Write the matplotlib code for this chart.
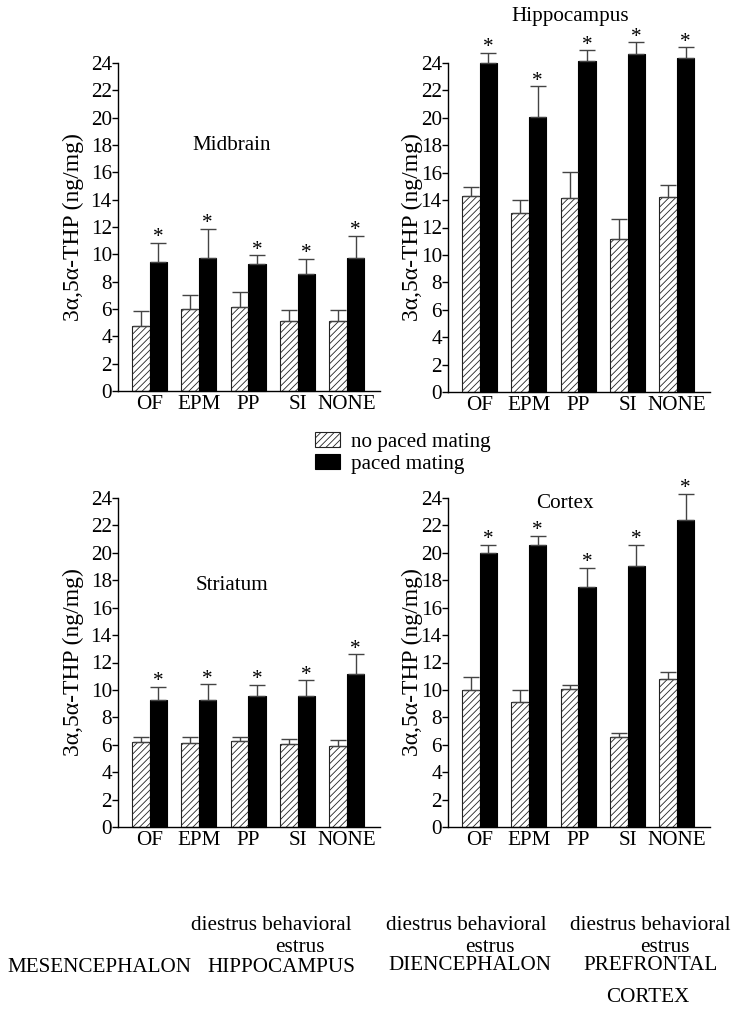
import matplotlib
matplotlib.use("Agg")
import matplotlib.pyplot as plt
import numpy as np

plt.rcParams['font.family'] = ['Liberation Serif', 'DejaVu Serif']
plt.rcParams['hatch.linewidth'] = 0.6
plt.rcParams['hatch.color'] = '#333333'

categories = ["OF", "EPM", "PP", "SI", "NONE"]
series_labels = ["no paced mating", "paced mating"]
yticks = list(range(0, 25, 2))

midbrain_no = [4.76, 6.00, 6.12, 5.10, 5.15]
midbrain_no_err = [1.12, 1.04, 1.12, 0.85, 0.80]
midbrain_paced = [9.47, 9.72, 9.30, 8.57, 9.74]
midbrain_paced_err = [1.36, 2.13, 0.63, 1.12, 1.60]

hippo_no = [14.30, 13.04, 14.13, 11.16, 14.25]
hippo_no_err = [0.66, 0.96, 1.95, 1.44, 0.85]
hippo_paced = [24.00, 20.05, 24.12, 24.66, 24.40]
hippo_paced_err = [0.73, 2.25, 0.81, 0.84, 0.75]

striatum_no = [6.21, 6.14, 6.26, 6.07, 5.92]
striatum_no_err = [0.32, 0.39, 0.27, 0.36, 0.46]
striatum_paced = [9.26, 9.28, 9.58, 9.58, 11.14]
striatum_paced_err = [0.97, 1.12, 0.78, 1.12, 1.46]

cortex_no = [9.99, 9.09, 10.06, 6.55, 10.82]
cortex_no_err = [0.93, 0.90, 0.32, 0.32, 0.51]
cortex_paced = [19.98, 20.57, 17.50, 19.03, 22.42]
cortex_paced_err = [0.59, 0.65, 1.38, 1.54, 1.90]

W, H = 736, 1011
FS = 15.2
fig = plt.figure(figsize=(W / 100, H / 100), dpi=100)


def rect(x0, x1, ytop, ybot):
    return [x0 / W, 1 - ybot / H, (x1 - x0) / W, (ybot - ytop) / H]


def fx(px):
    return px / W


def fy(py):
    return 1 - py / H


panels = [
    ("Midbrain", rect(118, 380, 63, 391), midbrain_no, midbrain_no_err, midbrain_paced, midbrain_paced_err, (232, 145), -45),
    ("Hippocampus", rect(448, 710, 63, 392), hippo_no, hippo_no_err, hippo_paced, hippo_paced_err, (570, 17), -36),
    ("Striatum", rect(118, 380, 498, 827), striatum_no, striatum_no_err, striatum_paced, striatum_paced_err, (232, 585), -45),
    ("Cortex", rect(448, 710, 498, 827), cortex_no, cortex_no_err, cortex_paced, cortex_paced_err, (565, 503), -36),
]

w = 0.355
handles = None
for title, r, no, no_err, pa, pa_err, tpos, ylab_off in panels:
    ax = fig.add_axes(r)
    x = np.arange(len(categories))
    b1 = ax.bar(x - w / 2, no, w, facecolor='white', edgecolor='#222222',
                hatch='/////', linewidth=0.8, clip_on=False)
    b2 = ax.bar(x + w / 2, pa, w, facecolor='black', edgecolor='black',
                linewidth=0.8, clip_on=False)
    handles = [b1, b2]
    zeros = np.zeros(len(categories))
    for xs, vals, errs in ((x - w / 2, no, no_err), (x + w / 2, pa, pa_err)):
        eb = ax.errorbar(xs, vals, yerr=[zeros, errs], fmt='none', ecolor='#444444',
                         elinewidth=1.0, capsize=5.5, capthick=1.0, clip_on=False)
        for art in eb.lines[1] + eb.lines[2]:
            art.set_clip_on(False)
    for xi, v, e in zip(x + w / 2, pa, pa_err):
        ax.annotate('*', (xi, v + e), xytext=(0, 0.5), textcoords='offset points',
                    ha='center', va='baseline', fontsize=FS, annotation_clip=False)
    ax.set_xlim(-0.64, 4.67)
    ax.set_ylim(0, 24)
    ax.set_yticks(yticks)
    ax.set_yticklabels([str(t) for t in yticks], fontsize=FS)
    ax.set_xticks(x)
    ax.set_xticklabels(categories, fontsize=FS)
    ax.tick_params(axis='x', length=0, pad=3)
    ax.tick_params(axis='y', direction='out', length=4, width=1, pad=0.5)
    for s in ('top', 'right'):
        ax.spines[s].set_visible(False)
    for s in ('left', 'bottom'):
        ax.spines[s].set_linewidth(1.0)
    ax.set_ylabel('3\u03b1,5\u03b1-THP (ng/mg)', fontsize=17, va='center', ha='center')
    ax.yaxis.set_label_coords(ylab_off / (r[2] * W), 0.5)
    fig.text(fx(tpos[0]), fy(tpos[1]), title, ha='center', va='center', fontsize=FS)

fig.legend(handles=handles, labels=series_labels, loc='upper left',
           bbox_to_anchor=(fx(315), fy(432)), frameon=False, borderpad=0,
           borderaxespad=0, handlelength=1.2, handletextpad=0.5,
           labelspacing=0.12, fontsize=FS)

bottom_texts = [
    ("diestrus behavioral", 271, 926), ("estrus", 300, 947),
    ("MESENCEPHALON", 99, 967), ("HIPPOCAMPUS", 281, 967),
    ("diestrus behavioral", 466, 926), ("estrus", 490, 947),
    ("DIENCEPHALON", 470, 966),
    ("diestrus behavioral", 650, 926), ("estrus", 665, 947),
    ("PREFRONTAL", 651, 966), ("CORTEX", 648, 997),
]
for s, px, py in bottom_texts:
    fig.text(fx(px), fy(py), s, ha='center', va='center', fontsize=FS)

fig.savefig('out.png', dpi=100)
